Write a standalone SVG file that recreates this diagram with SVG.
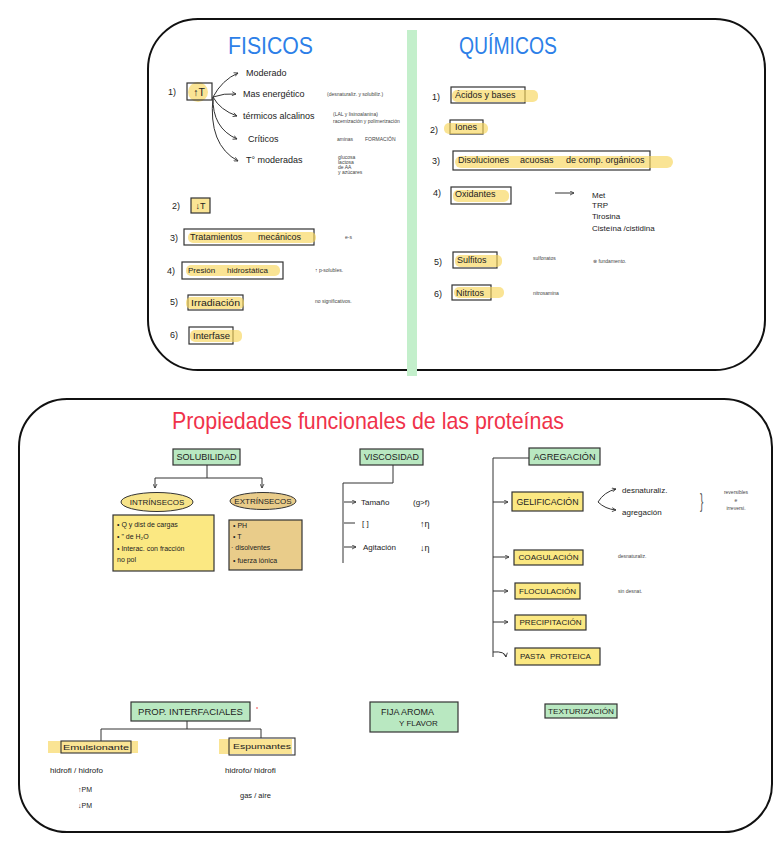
<svg xmlns="http://www.w3.org/2000/svg" width="782" height="848" viewBox="0 0 782 848">
<defs>
<style>
.t{font-family:"Liberation Sans",Arial,sans-serif;fill:#222;dominant-baseline:central}
.s{font-size:9px}
.xs{font-size:5px;fill:#444}
.box{fill:#fff;stroke:#333;stroke-width:1.2}
.gbox{fill:#b9e8c1;stroke:#333;stroke-width:1.2}
.ybox{fill:#fbe882;stroke:#333;stroke-width:1.2}
.tbox{fill:#e9cc8a;stroke:#333;stroke-width:1.2}
.hl{fill:#f8d55a;opacity:0.65}
.ln{stroke:#333;fill:none;stroke-width:1}
.panel{fill:none;stroke:#111;stroke-width:2}
</style>
<marker id="ah" viewBox="0 0 10 10" refX="9" refY="5" markerWidth="5" markerHeight="5" orient="auto-start-reverse">
<path d="M1,1 L9,5 L1,9" fill="none" stroke="#333" stroke-width="1.6"/>
</marker>
</defs>
<rect width="782" height="848" fill="#fff"/>

<!-- panels -->
<rect x="148" y="19" width="617" height="351" rx="50" class="panel"/>
<rect x="407" y="30" width="10" height="346" fill="#c3efcb"/>
<rect x="19" y="399" width="753" height="433" rx="48" class="panel"/>

<!-- titles -->
<text class="t" x="228" y="45" font-size="24" style="fill:#2d7fe8" textLength="85" lengthAdjust="spacingAndGlyphs">FISICOS</text>
<text class="t" x="459" y="45" font-size="24" style="fill:#2d7fe8" textLength="98" lengthAdjust="spacingAndGlyphs">QUÍMICOS</text>
<text class="t" x="172" y="420" font-size="24" style="fill:#f0324a" textLength="392" lengthAdjust="spacingAndGlyphs">Propiedades funcionales de las proteínas</text>

<!-- ===== FISICOS ===== -->
<g id="f1">
<text class="t s" x="168" y="92">1)</text>
<circle cx="198" cy="92" r="10" class="hl"/>
<rect x="187" y="83" width="25" height="17" fill="none" stroke="#333" stroke-width="1.2"/>
<text class="t" x="199" y="92" font-size="10.5" text-anchor="middle">↑T</text>
</g>
<g id="connectors-top">
<path class="ln" d="M213,97 Q222,80 238,73" marker-end="url(#ah)"/>
<path class="ln" d="M213,97 Q224,93 236,94" marker-end="url(#ah)"/>
<path class="ln" d="M213,97 Q220,110 237,116" marker-end="url(#ah)"/>
<path class="ln" d="M213,97 Q212,128 237,139" marker-end="url(#ah)"/>
<path class="ln" d="M213,97 Q208,145 238,161" marker-end="url(#ah)"/>
<path class="ln" d="M555,193 L574,193" marker-end="url(#ah)"/>
</g>
<g id="f1-items">
<text class="t s" x="246" y="73">Moderado</text>
<text class="t s" x="243" y="94">Mas energético</text>
<text class="t xs" x="327" y="94">(desnaturaliz. y solubiliz.)</text>
<text class="t s" x="243" y="116">térmicos alcalinos</text>
<text class="t xs" x="333" y="114">(LAL y lisinoalanina)</text>
<text class="t xs" x="333" y="121">racemización  y  polimerización</text>
<text class="t s" x="248" y="139">Críticos</text>
<text class="t xs" x="337" y="139">aminas</text>
<text class="t xs" x="365" y="139">FORMACIÓN</text>
<text class="t s" x="246" y="160">T° moderadas</text>
<text class="t xs" x="338" y="157" font-size="4">glucosa</text>
<text class="t xs" x="338" y="162" font-size="4">lactosa</text>
<text class="t xs" x="338" y="167" font-size="4">de AA</text>
<text class="t xs" x="338" y="172" font-size="4">y azúcares</text>
</g>
<g id="f2">
<text class="t s" x="172" y="206">2)</text>
<rect x="191" y="198" width="19" height="15" class="hl"/>
<rect x="191" y="198" width="19" height="15" fill="none" stroke="#333" stroke-width="1.2"/>
<text class="t" x="200.5" y="206" font-size="9" text-anchor="middle">↓T</text>
</g>
<g id="f3">
<text class="t s" x="170" y="238">3)</text>
<rect x="184" y="229" width="130" height="16" class="box"/>
<rect x="188" y="232" width="128" height="11" rx="5" class="hl"/>
<text class="t s" x="190" y="237">Tratamientos</text>
<text class="t s" x="258" y="237">mecánicos</text>
<text class="t xs" x="345" y="237">e-s</text>
</g>
<g id="f4">
<text class="t s" x="167" y="271">4)</text>
<rect x="182" y="262" width="101" height="17" class="box"/>
<rect x="186" y="265" width="94" height="11" rx="5" class="hl"/>
<text class="t" x="188" y="270.5" font-size="8">Presión</text>
<text class="t" x="227" y="270.5" font-size="8">hidrostática</text>
<text class="t xs" x="315" y="270">↑ p-solubles.</text>
</g>
<g id="f5">
<text class="t s" x="170" y="302">5)</text>
<rect x="188" y="295" width="55" height="15" class="box"/>
<rect x="186" y="297" width="58" height="12" rx="5" class="hl"/>
<text class="t s" x="191" y="302.5" textLength="49" lengthAdjust="spacingAndGlyphs">Irradiación</text>
<text class="t xs" x="315" y="301">no significativos.</text>
</g>
<g id="f6">
<text class="t s" x="170" y="335">6)</text>
<rect x="189" y="327" width="44" height="17" class="box"/>
<rect x="190" y="330" width="52" height="12" rx="5" class="hl"/>
<text class="t s" x="193" y="335.5" textLength="37" lengthAdjust="spacingAndGlyphs">Interfase</text>
</g>

<!-- ===== QUIMICOS ===== -->
<g id="q1">
<text class="t s" x="432" y="97">1)</text>
<rect x="451" y="87" width="74" height="16" class="box"/>
<rect x="452" y="90" width="86" height="12" rx="5" class="hl"/>
<text class="t s" x="455" y="95">Ácidos y bases</text>
</g>
<g id="q2">
<text class="t s" x="430" y="130">2)</text>
<rect x="450" y="120" width="33" height="14" class="box"/>
<rect x="444" y="123" width="44" height="11" rx="5" class="hl"/>
<text class="t s" x="455" y="127">Iones</text>
</g>
<g id="q3">
<text class="t s" x="432" y="161">3)</text>
<rect x="453" y="151" width="197" height="19" class="box"/>
<rect x="455" y="156" width="218" height="12" rx="6" class="hl"/>
<text class="t s" x="458" y="160">Disoluciones</text>
<text class="t s" x="520" y="160">acuosas</text>
<text class="t s" x="566" y="160">de  comp. orgánicos</text>
</g>
<g id="q4">
<text class="t s" x="433" y="193">4)</text>
<rect x="451" y="187" width="60" height="17" class="box"/>
<rect x="453" y="190" width="56" height="12" rx="5" class="hl"/>
<text class="t s" x="455" y="194">Oxidantes</text>
<text class="t" x="592" y="195" font-size="8">Met</text>
<text class="t" x="592" y="205.5" font-size="8">TRP</text>
<text class="t" x="592" y="216" font-size="8">Tirosina</text>
<text class="t" x="592" y="228" font-size="8">Cisteína /cistidina</text>
</g>
<g id="q5">
<text class="t s" x="434" y="262">5)</text>
<rect x="453" y="252" width="44" height="16" class="box"/>
<rect x="455" y="255" width="47" height="12" rx="5" class="hl"/>
<text class="t s" x="457" y="260">Sulfitos</text>
<text class="t xs" x="533" y="258">sulfonatos</text>
<text class="t xs" x="593" y="261">⊗ fundamento.</text>
</g>
<g id="q6">
<text class="t s" x="434" y="294">6)</text>
<rect x="452" y="285" width="39" height="15" class="box"/>
<rect x="454" y="287" width="50" height="11" rx="5" class="hl"/>
<text class="t s" x="456" y="292.5">Nitritos</text>
<text class="t xs" x="533" y="293">nitrosamina</text>
</g>

<!-- ===== PROPIEDADES ===== -->
<g id="connectors">
<path class="ln" d="M207,465 V478 M155,478 H262"/>
<path class="ln" d="M155,478 V488" marker-end="url(#ah)"/>
<path class="ln" d="M262,478 V488" marker-end="url(#ah)"/>
<path class="ln" d="M393,465 V483 H343 V563"/>
<path class="ln" d="M344,502 H356" marker-end="url(#ah)"/>
<path class="ln" d="M344,523 H355"/>
<path class="ln" d="M344,547 H356" marker-end="url(#ah)"/>
<path class="ln" d="M529,458 H493 V657"/>
<path class="ln" d="M493,502 H508" marker-end="url(#ah)"/>
<path class="ln" d="M493,557 H509" marker-end="url(#ah)"/>
<path class="ln" d="M493,591 H508" marker-end="url(#ah)"/>
<path class="ln" d="M493,622 H508" marker-end="url(#ah)"/>
<path class="ln" d="M493,652 Q505,651 506,657" marker-end="url(#ah)"/>
<path class="ln" d="M598,502 Q604,492 616,489" marker-end="url(#ah)"/>
<path class="ln" d="M598,502 Q605,509 616,510" marker-end="url(#ah)"/>
<path class="ln" d="M187,721 V729 M101,729 H261 M101,729 V741 M261,729 V738"/>
</g>

<g id="solubilidad">
<rect x="173" y="449" width="67" height="16" class="gbox"/>
<text class="t" x="206.5" y="457" font-size="9" text-anchor="middle" textLength="60" lengthAdjust="spacingAndGlyphs">SOLUBILIDAD</text>
</g>
<g id="intrinsecos">
<ellipse cx="157" cy="502" rx="36" ry="9.5" fill="#f7e48a" stroke="#333" stroke-width="1"/>
<text class="t" x="157" y="502" font-size="8" text-anchor="middle">INTRÍNSECOS</text>
</g>
<g id="extrinsecos">
<ellipse cx="263" cy="501" rx="33" ry="8.5" fill="#e9cc8a" stroke="#333" stroke-width="1"/>
<text class="t" x="263" y="501" font-size="8" text-anchor="middle">EXTRÍNSECOS</text>
</g>
<g id="intr-box">
<rect x="113" y="515" width="101" height="56" class="ybox"/>
<text class="t" x="117" y="524" font-size="7">• Q y dist de cargas</text>
<text class="t" x="117" y="536" font-size="7">•     "  de H₂O</text>
<text class="t" x="117" y="548" font-size="7">• Interac. con fracción</text>
<text class="t" x="117" y="559" font-size="7">no pol</text>
</g>
<g id="extr-box">
<rect x="229" y="520" width="73" height="50" class="tbox"/>
<text class="t" x="233" y="525" font-size="7">•  PH</text>
<text class="t" x="233" y="536" font-size="7">•  T</text>
<text class="t" x="231" y="547" font-size="7">· disolventes</text>
<text class="t" x="233" y="560" font-size="7">•  fuerza iónica</text>
</g>

<g id="viscosidad">
<rect x="360" y="449" width="63" height="16" class="gbox"/>
<text class="t" x="391.5" y="457" font-size="9" text-anchor="middle" textLength="55" lengthAdjust="spacingAndGlyphs">VISCOSIDAD</text>
<text class="t" x="361" y="502" font-size="8">Tamaño</text>
<text class="t" x="413" y="502" font-size="8">(g&gt;f)</text>
<text class="t" x="362" y="523" font-size="8">[ ]</text>
<text class="t" x="420" y="524" font-size="9">↑η</text>
<text class="t" x="363" y="547" font-size="8">Agitación</text>
<text class="t" x="420" y="548" font-size="9">↓η</text>
</g>

<g id="agregacion">
<rect x="529" y="448" width="71" height="17" class="gbox"/>
<text class="t" x="564.5" y="456.5" font-size="8.5" text-anchor="middle" textLength="62" lengthAdjust="spacingAndGlyphs">AGREGACIÓN</text>
</g>
<g id="gelificacion">
<rect x="512" y="492" width="71" height="19" class="ybox"/>
<text class="t" x="547.5" y="501.5" font-size="9" text-anchor="middle" textLength="62" lengthAdjust="spacingAndGlyphs">GELIFICACIÓN</text>
<text class="t" x="622" y="490" font-size="8">desnaturaliz.</text>
<text class="t" x="622" y="512" font-size="8">agregación</text>
<text class="t" x="700" y="501" font-size="20" style="fill:#555" transform="translate(700 501) scale(0.5 1) translate(-700 -501)">}</text>
<text class="t xs" x="736" y="492" text-anchor="middle">reversibles</text>
<text class="t xs" x="736" y="500" text-anchor="middle">e</text>
<text class="t xs" x="736" y="508" text-anchor="middle">irreversi.</text>
</g>
<g id="coagulacion">
<rect x="514" y="550" width="69" height="15" class="ybox"/>
<text class="t" x="548.5" y="557.5" font-size="8" text-anchor="middle" textLength="60" lengthAdjust="spacingAndGlyphs">COAGULACIÓN</text>
<text class="t xs" x="618" y="556">desnaturaliz.</text>
</g>
<g id="floculacion">
<rect x="515" y="583" width="65" height="16" class="ybox"/>
<text class="t" x="547.5" y="591" font-size="8" text-anchor="middle" textLength="57" lengthAdjust="spacingAndGlyphs">FLOCULACIÓN</text>
<text class="t xs" x="618" y="591">sin desnat.</text>
</g>
<g id="precipitacion">
<rect x="515" y="615" width="71" height="15" class="ybox"/>
<text class="t" x="550.5" y="622.5" font-size="8" text-anchor="middle" textLength="62" lengthAdjust="spacingAndGlyphs">PRECIPITACIÓN</text>
</g>
<g id="pasta">
<rect x="515" y="648" width="85" height="17" class="ybox"/>
<text class="t" x="520" y="656.5" font-size="8">PASTA</text>
<text class="t" x="550" y="656.5" font-size="8">PROTEICA</text>
</g>

<g id="interfaciales">
<rect x="131" y="702" width="119" height="19" class="gbox"/>
<text class="t" x="190.5" y="711.5" font-size="9.5" text-anchor="middle">PROP. INTERFACIALES</text>
<circle cx="257" cy="708" r="0.8" fill="#e33"/>
</g>
<g id="emulsionante">
<rect x="48" y="741" width="90" height="12" class="hl"/>
<rect x="61" y="741" width="70" height="12" fill="none" stroke="#333" stroke-width="1.1"/>
<text class="t" x="63" y="747" font-size="8" textLength="66" lengthAdjust="spacingAndGlyphs">Emulsionante</text>
<text class="t" x="50" y="770" font-size="8">hidrofi   / hidrofo</text>
<text class="t" x="78" y="789" font-size="7">↑PM</text>
<text class="t" x="78" y="805" font-size="7">↓PM</text>
</g>
<g id="espumantes">
<rect x="219" y="739" width="73" height="15" class="hl"/>
<rect x="229" y="738" width="66" height="17" fill="none" stroke="#333" stroke-width="1.1"/>
<text class="t" x="233" y="746.5" font-size="8" textLength="58" lengthAdjust="spacingAndGlyphs">Espumantes</text>
<text class="t" x="225" y="770" font-size="8">hidrofo/ hidrofi</text>
<text class="t" x="240" y="795" font-size="7.5">gas / aire</text>
</g>
<g id="fija">
<rect x="370" y="702" width="88" height="30" class="gbox"/>
<text class="t" x="381" y="712" font-size="9">FIJA  AROMA</text>
<text class="t" x="399" y="723" font-size="8">Y FLAVOR</text>
</g>
<g id="texturizacion">
<rect x="545" y="704" width="72" height="14" class="gbox"/>
<text class="t" x="581" y="711" font-size="8" text-anchor="middle" textLength="66" lengthAdjust="spacingAndGlyphs">TEXTURIZACIÓN</text>
</g>
</svg>
